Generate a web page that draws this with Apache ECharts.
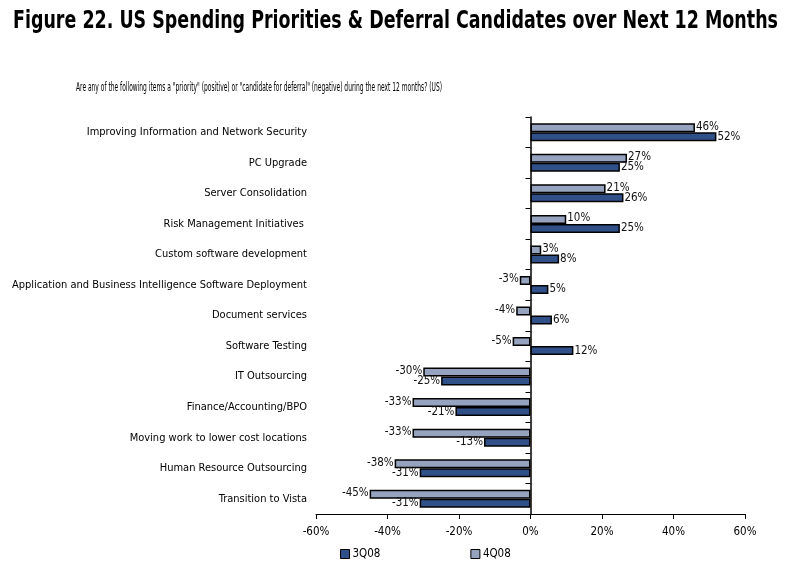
<!DOCTYPE html>
<html><head><meta charset="utf-8">
<script src="https://cdn.jsdelivr.net/npm/echarts@6/dist/echarts.min.js"></script>
<style>html,body{margin:0;padding:0;background:#fff}#c{width:803px;height:568px}</style>
</head><body><div id="c"></div>
<script>
var categories = ["Improving Information and Network Security","PC Upgrade","Server Consolidation","Risk Management Initiatives ","Custom software development","Application and Business Intelligence Software Deployment","Document services","Software Testing","IT Outsourcing","Finance/Accounting/BPO","Moving work to lower cost locations","Human Resource Outsourcing","Transition to Vista"];
var q4_08 = [46,27,21,10,3,-3,-4,-5,-30,-33,-33,-38,-45];
var q3_08 = [52,25,26,25,8,5,6,12,-25,-21,-13,-31,-31];
var xTicks = [-60,-40,-20,0,20,40,60];
var titleText = "Figure 22. US Spending Priorities & Deferral Candidates over Next 12 Months";
var subtitleText = 'Are any of the following items a "priority" (positive) or "candidate for deferral" (negative) during the next 12 months? (US)';

var FAM = '"DejaVu Sans Condensed"';
var FONT = 'DejaVu Sans Condensed';
var ctx = document.createElement('canvas').getContext('2d');
function measure(txt, size, weight){ctx.font=(weight||'normal')+' '+size+'px '+FAM;return ctx.measureText(txt).width;}
var titleScale = 765/measure(titleText,25,'bold');
var subScale = 366/measure(subtitleText,11.5,'normal');
var catSize = 11;
var valSize = 11.5;
var tickSize = 11.5;

function mk(arr){return arr.map(function(v){return {value:v,label:{position:v>=0?'right':'left'}};});}
var chart = echarts.init(document.getElementById('c'));
chart.setOption({
  animation:false,
  backgroundColor:'#fff',
  graphic:[
    {type:'text',x:13,y:9,scaleX:titleScale,originX:0,originY:0,
     style:{text:titleText,font:'bold 25px '+FAM,fill:'#000',textAlign:'left',textVerticalAlign:'top'}},
    {type:'text',x:259,y:82,scaleX:subScale,originX:0,originY:0,
     style:{text:subtitleText,font:'11.5px '+FAM,fill:'#000',textAlign:'center',textVerticalAlign:'top'}}
  ],
  legend:{data:['3Q08','4Q08'],left:340,top:548,padding:0,itemWidth:9,itemHeight:9,itemGap:90,icon:'rect',
    itemStyle:{borderColor:'#000',borderWidth:1},
    textStyle:{fontFamily:FONT,fontSize:tickSize,color:'#000',padding:[0,0,0,-2]}},
  grid:{left:316,right:58,top:117,height:397,containLabel:false,outerBoundsMode:'none'},
  xAxis:{type:'value',min:xTicks[0],max:xTicks[xTicks.length-1],interval:20,
    axisLine:{show:true,lineStyle:{color:'#000'}},axisTick:{show:true,length:5,lineStyle:{color:'#000'}},
    splitLine:{show:false},axisLabel:{formatter:'{value}%',fontFamily:FONT,fontSize:tickSize,color:'#000',margin:12}},
  yAxis:[{type:'category',data:categories,inverse:true,
    axisLine:{onZero:true,lineStyle:{color:'#000',width:1.5}},axisTick:{show:true,length:5,lineStyle:{color:'#000'}},
    axisLabel:{show:false}},
    {type:'category',data:categories,inverse:true,position:'left',
    axisLine:{show:false,onZero:false},axisTick:{show:false},
    axisLabel:{show:true,fontFamily:FONT,fontSize:catSize,color:'#000',margin:9}}],
  series:[
    {name:'4Q08',type:'bar',yAxisIndex:0,data:mk(q4_08),barWidth:9,barGap:'0%',
     itemStyle:{color:'#95A3BE',borderColor:'#000',borderWidth:1.5},
     label:{show:true,formatter:'{c}%',fontFamily:FONT,fontSize:valSize,color:'#111',distance:1,offset:[0,-1]}},
    {name:'3Q08',type:'bar',yAxisIndex:0,data:mk(q3_08),barWidth:9,barGap:'0%',
     itemStyle:{color:'#30508A',borderColor:'#000',borderWidth:1.5},
     label:{show:true,formatter:'{c}%',fontFamily:FONT,fontSize:valSize,color:'#111',distance:1,offset:[0,0]}}
  ]
});
</script></body></html>
